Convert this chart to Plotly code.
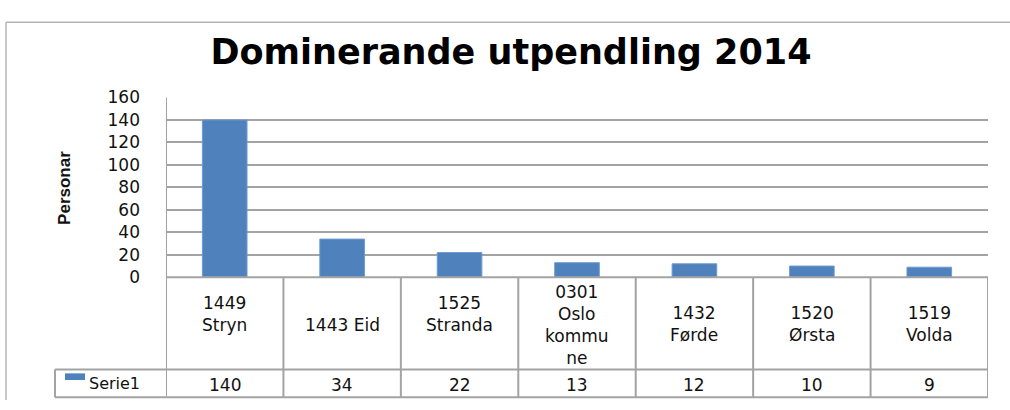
import plotly.graph_objects as go

# ---- data ----
categories = ["1449<br>Stryn", "1443 Eid", "1525<br>Stranda", "0301<br>Oslo<br>kommu<br>ne",
              "1432<br>Førde", "1520<br>Ørsta", "1519<br>Volda"]
values = [140, 34, 22, 13, 12, 10, 9]
series_name = "Serie1"
y_ticks = [0, 20, 40, 60, 80, 100, 120, 140, 160]
title_text = "Dominerande utpendling 2014"
y_title = "Personar"

W, H = 1010, 410
def px(x):
    return x / W
def py(y):
    return 1 - y / H

PLOT_L, PLOT_R, PLOT_T, PLOT_B = 166, 988, 92, 281
ROW1_B, ROW2_B = 378, 407
LEG_L = 55
BAR = "#4F81BD"
GRID = "#a3a3a3"
TXT = "#111111"
FONT = "DejaVu Sans"

n = len(categories)
xs = list(range(n))

fig = go.Figure()
fig.add_trace(go.Bar(x=xs, y=values, marker=dict(color=BAR, line=dict(color="#6f9bd0", width=1)),
                     name=series_name, hoverinfo="skip"))

shapes = []
# outer chart border
shapes.append(dict(type="line", xref="paper", yref="paper", x0=px(6), x1=1.0, y0=py(13), y1=py(13),
                   line=dict(color="#b5b5b5", width=1.5)))
shapes.append(dict(type="line", xref="paper", yref="paper", x0=px(6), x1=px(6), y0=py(13), y1=0,
                   line=dict(color="#b5b5b5", width=1.5)))
# table horizontal lines
for yy, x0 in [(PLOT_B, PLOT_L), (ROW1_B, LEG_L), (ROW2_B, LEG_L)]:
    shapes.append(dict(type="line", xref="paper", yref="paper", x0=px(x0), x1=px(PLOT_R),
                       y0=py(yy), y1=py(yy), line=dict(color=GRID, width=2)))
# table vertical lines (category boundaries)
for i in range(n + 1):
    top = PLOT_T if i == 0 else PLOT_B
    shapes.append(dict(type="line", xref="x", yref="paper", x0=i - 0.5, x1=i - 0.5,
                       y0=py(top), y1=py(ROW2_B), line=dict(color=GRID, width=2)))
shapes.append(dict(type="line", xref="paper", yref="paper", x0=px(LEG_L), x1=px(LEG_L),
                   y0=py(ROW1_B), y1=py(ROW2_B), line=dict(color=GRID, width=2)))
# legend key
shapes.append(dict(type="rect", xref="paper", yref="paper", x0=px(65), x1=px(85),
                   y0=py(389), y1=py(382), fillcolor=BAR, line=dict(width=0)))

annotations = []
label_centers = [320, 331, 320, 331, 330, 330, 330]
for i, (c, v) in enumerate(zip(categories, values)):
    annotations.append(dict(x=i, xref="x", y=py(label_centers[i]), yref="paper", text=c,
                            showarrow=False, font=dict(family=FONT, size=17, color=TXT),
                            xanchor="center", yanchor="middle", align="center"))
    annotations.append(dict(x=i, xref="x", y=py(394), yref="paper", text=str(v),
                            showarrow=False, font=dict(family=FONT, size=17, color=TXT),
                            xanchor="center", yanchor="middle"))
annotations.append(dict(x=px(87), xref="paper", y=py(393), yref="paper", text=series_name,
                        showarrow=False, font=dict(family=FONT, size=16, color=TXT),
                        xanchor="left", yanchor="middle"))
annotations.append(dict(x=px(65), xref="paper", y=py(187), yref="paper", text="<b>" + y_title + "</b>",
                        showarrow=False, textangle=-90,
                        font=dict(family="Liberation Sans Narrow, Liberation Sans", size=17, color=TXT),
                        xanchor="center", yanchor="middle"))

fig.update_layout(
    width=W, height=H,
    margin=dict(l=0, r=0, t=0, b=0),
    paper_bgcolor="white", plot_bgcolor="white",
    showlegend=False,
    bargap=0.62,
    title=dict(text="<b>" + title_text + "</b>", x=px(511), xanchor="center", xref="paper",
               y=py(52), yref="container", yanchor="middle",
               font=dict(family="DejaVu Sans", size=35, color="#000000")),
    xaxis=dict(domain=[px(PLOT_L), px(PLOT_R)], range=[-0.5, n - 0.5], showticklabels=False,
               showgrid=False, zeroline=False, showline=False, fixedrange=True),
    yaxis=dict(domain=[py(PLOT_B), py(PLOT_T)], range=[0, 160], tickvals=y_ticks,
               showgrid=True, gridcolor=GRID, gridwidth=2, zeroline=False, showline=False,
               ticks="", ticklabelstandoff=25,
               tickfont=dict(family=FONT, size=17, color=TXT), fixedrange=True),
    shapes=shapes,
    annotations=annotations,
)

fig.write_html("out.html", config={"displayModeBar": False},
               post_script="document.body.style.margin='0';document.body.style.overflow='hidden';")
